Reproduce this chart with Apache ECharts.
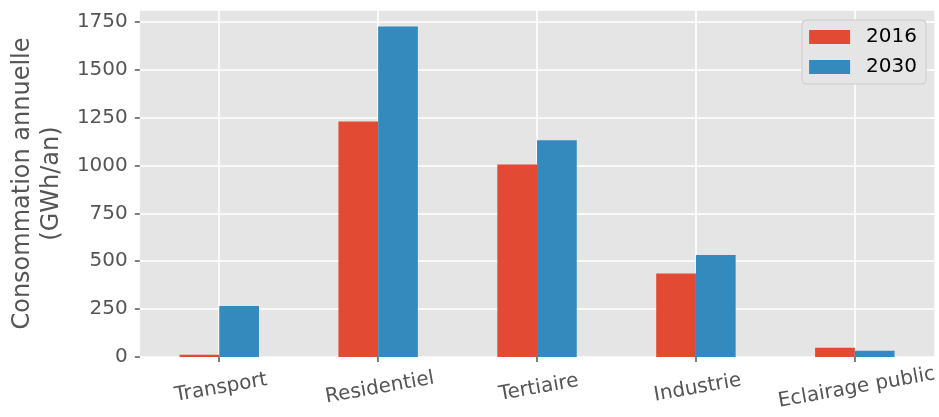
<!DOCTYPE html>
<html>
<head>
<meta charset="utf-8">
<script src="https://cdn.jsdelivr.net/npm/echarts@6/dist/echarts.min.js"></script>
<style>
  html, body { margin: 0; padding: 0; background: #fff; }
  #chart { width: 939px; height: 417px; }
</style>
</head>
<body>
<div id="chart"></div>
<script>
// données
const categories = ['Transport', 'Residentiel', 'Tertiaire', 'Industrie', 'Eclairage public'];
const values2016 = [12, 1230, 1005, 436, 48];
const values2030 = [266, 1726, 1132, 532, 32];
const yTicks = [0, 250, 500, 750, 1000, 1250, 1500, 1750];

const FONT = 'DejaVu Sans';
const red = '#E24A33';
const blue = '#348ABD';

// demi-pas pour placer les lignes verticales au centre des catégories
const halfSteps = [];
for (let i = 0; i <= categories.length * 2; i++) halfSteps.push(String(i));

const chart = echarts.init(document.getElementById('chart'));

const option = {
    backgroundColor: '#ffffff',
    animation: false,
    textStyle: { fontFamily: FONT },
    grid: {
        left: 136,
        right: 3,
        top: 10,
        bottom: 60,
        show: true,
        backgroundColor: '#E5E5E5',
        borderWidth: 0
    },
    legend: {
        orient: 'vertical',
        right: 13,
        top: 20,
        data: ['2016', '2030'],
        itemWidth: 41,
        itemHeight: 14,
        itemGap: 10,
        padding: [7, 9, 7, 7],
        backgroundColor: '#E5E5E5',
        borderColor: '#CCCCCC',
        borderWidth: 1,
        borderRadius: 4,
        icon: 'rect',
        textStyle: {
            fontFamily: FONT,
            fontSize: 20,
            color: '#000',
            padding: [0, 0, 0, 11]
        }
    },
    xAxis: [{
        type: 'category',
        data: categories,
        boundaryGap: true,
        axisLine: { show: false },
        axisTick: {
            show: true,
            alignWithLabel: true,
            length: 5,
            lineStyle: { color: '#555555', width: 1.5 }
        },
        splitLine: { show: false },
        axisLabel: {
            fontFamily: FONT,
            fontSize: 20,
            color: '#555555',
            rotate: 10,
            align: 'center',
            verticalAlign: 'top',
            margin: 21
        }
    }, {
        type: 'category',
        data: halfSteps,
        boundaryGap: false,
        position: 'bottom',
        axisLine: { show: false },
        axisTick: { show: false },
        axisLabel: { show: false },
        splitLine: {
            show: true,
            interval: (i) => i % 2 === 1,
            lineStyle: { color: '#ffffff', width: 1.6 }
        }
    }],
    yAxis: {
        type: 'value',
        min: 0,
        max: 1812,
        interval: 250,
        name: 'Consommation annuelle\n(GWh/an)',
        nameLocation: 'middle',
        nameGap: 72,
        nameTextStyle: {
            fontFamily: FONT,
            fontSize: 24,
            color: '#555555',
            lineHeight: 29
        },
        axisLine: { show: false },
        axisTick: {
            show: true,
            length: 5,
            lineStyle: { color: '#555555', width: 1.5 }
        },
        axisLabel: {
            fontFamily: FONT,
            fontSize: 20,
            color: '#555555',
            margin: 12,
            showMaxLabel: false,
            formatter: (v) => (yTicks.indexOf(v) >= 0 ? String(v) : '')
        },
        splitLine: {
            show: true,
            lineStyle: { color: '#ffffff', width: 1.6 }
        }
    },
    series: [{
        name: '2016',
        type: 'bar',
        data: values2016,
        itemStyle: { color: red },
        barGap: '0%',
        barCategoryGap: '50%'
    }, {
        name: '2030',
        type: 'bar',
        data: values2030,
        itemStyle: { color: blue },
        barGap: '0%',
        barCategoryGap: '50%'
    }]
};

chart.setOption(option);
</script>
</body>
</html>
